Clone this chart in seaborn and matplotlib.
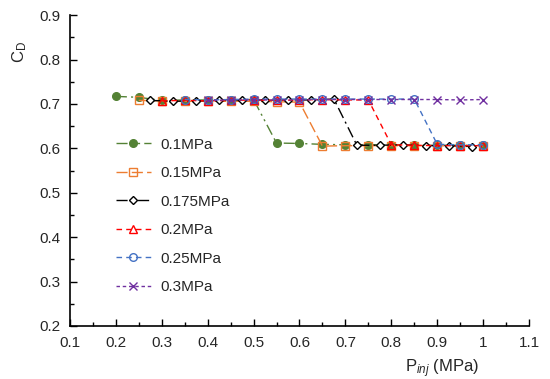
import matplotlib
matplotlib.use("Agg")
import matplotlib.pyplot as plt
from matplotlib.ticker import MultipleLocator, FuncFormatter
import seaborn as sns
import pandas as pd

# series data (P_inj in MPa, C_D)
p_01 = [0.2, 0.25, 0.3, 0.35, 0.4, 0.45, 0.5, 0.55, 0.6, 0.65, 0.7, 0.75, 0.8, 0.85, 0.9, 0.95, 1.0]
cd_01 = [0.717, 0.715, 0.708, 0.709, 0.709, 0.709, 0.710, 0.612, 0.611, 0.609, 0.608, 0.608, 0.608, 0.607, 0.607, 0.607, 0.607]

p_015 = [0.25, 0.3, 0.35, 0.4, 0.45, 0.5, 0.55, 0.6, 0.65, 0.7, 0.75, 0.8, 0.85, 0.9, 0.95, 1.0]
cd_015 = [0.708, 0.707, 0.706, 0.706, 0.706, 0.706, 0.705, 0.704, 0.605, 0.606, 0.606, 0.606, 0.606, 0.606, 0.605, 0.605]

p_0175 = [0.275, 0.325, 0.375, 0.425, 0.475, 0.525, 0.575, 0.625, 0.675, 0.725, 0.775, 0.825, 0.875, 0.925, 0.975]
cd_0175 = [0.708, 0.706, 0.707, 0.708, 0.709, 0.709, 0.709, 0.709, 0.711, 0.607, 0.607, 0.608, 0.606, 0.606, 0.604]

p_02 = [0.3, 0.35, 0.4, 0.45, 0.5, 0.55, 0.6, 0.65, 0.7, 0.75, 0.8, 0.85, 0.9, 0.95, 1.0]
cd_02 = [0.707, 0.708, 0.707, 0.708, 0.709, 0.708, 0.709, 0.710, 0.709, 0.709, 0.608, 0.607, 0.606, 0.606, 0.606]

p_025 = [0.35, 0.4, 0.45, 0.5, 0.55, 0.6, 0.65, 0.7, 0.75, 0.8, 0.85, 0.9, 0.95, 1.0]
cd_025 = [0.710, 0.709, 0.710, 0.711, 0.711, 0.711, 0.711, 0.711, 0.711, 0.711, 0.711, 0.609, 0.608, 0.608]

p_03 = [0.4, 0.45, 0.5, 0.55, 0.6, 0.65, 0.7, 0.75, 0.8, 0.85, 0.9, 0.95, 1.0]
cd_03 = [0.708, 0.709, 0.709, 0.709, 0.709, 0.710, 0.710, 0.710, 0.710, 0.710, 0.710, 0.709, 0.710]

labels = ['0.1MPa', '0.15MPa', '0.175MPa', '0.2MPa', '0.25MPa', '0.3MPa']
x_ticks = [0.1, 0.2, 0.3, 0.4, 0.5, 0.6, 0.7, 0.8, 0.9, 1.0, 1.1]
y_ticks = [0.2, 0.3, 0.4, 0.5, 0.6, 0.7, 0.8, 0.9]

series = [(p_01, cd_01), (p_015, cd_015), (p_0175, cd_0175),
          (p_02, cd_02), (p_025, cd_025), (p_03, cd_03)]
frames = []
for lab, (p, cd) in zip(labels, series):
    frames.append(pd.DataFrame({'P': p, 'CD': cd, 'case': lab}))
df = pd.concat(frames, ignore_index=True)

sns.set_style("ticks")
plt.rcParams['font.family'] = ['Liberation Sans', 'DejaVu Sans']
plt.rcParams['mathtext.fontset'] = 'custom'
plt.rcParams['mathtext.rm'] = 'Liberation Sans'
plt.rcParams['mathtext.it'] = 'Liberation Sans:italic'

styles = {
    '0.1MPa': dict(color='#548235', marker='o', ls=(0, (8, 3, 1.5, 3, 1.5, 3)), mfc='#548235'),
    '0.15MPa': dict(color='#ED7D31', marker='s', ls=(0, (8, 3)), mfc='none'),
    '0.175MPa': dict(color='black', marker='D', ls=(0, (8, 3, 1.5, 3)), mfc='white', ms=4.5),
    '0.2MPa': dict(color='#FF0000', marker='^', ls=(0, (4, 3)), mfc='none'),
    '0.25MPa': dict(color='#4472C4', marker='o', ls=(0, (4, 3)), mfc='none'),
    '0.3MPa': dict(color='#7030A0', marker='x', ls=(0, (2.5, 2)), mfc='none'),
}

fig = plt.figure(figsize=(5.5, 3.79), dpi=100)
ax = fig.add_axes([0.127, 0.14, 0.835, 0.82])

for lab in labels:
    st = styles[lab]
    sns.lineplot(data=df[df['case'] == lab], x='P', y='CD', ax=ax,
                 color=st['color'], marker=st['marker'], linestyle=st['ls'],
                 markerfacecolor=st['mfc'], markeredgecolor=st['color'],
                 markersize=st.get('ms', 5.5), markeredgewidth=1.0,
                 linewidth=1.0, label=lab)

ax.set_xlim(0.1, 1.1)
ax.set_ylim(0.2, 0.9)
ax.set_xticks(x_ticks)
ax.set_yticks(y_ticks)
ax.xaxis.set_minor_locator(MultipleLocator(0.05))
ax.yaxis.set_minor_locator(MultipleLocator(0.05))
ax.xaxis.set_major_formatter(FuncFormatter(lambda v, _: f'{v:g}'))
ax.yaxis.set_major_formatter(FuncFormatter(lambda v, _: f'{v:g}'))
ax.tick_params(which='both', direction='in', labelsize=11, color='black', width=1, pad=7)
ax.tick_params(which='major', length=5)
ax.tick_params(which='minor', length=3)
sns.despine(ax=ax)
for s in ['left', 'bottom']:
    ax.spines[s].set_color('black')
    ax.spines[s].set_linewidth(1.2)

ax.set_xlabel(r'P$_{inj}$ (MPa)', fontsize=12)
ax.xaxis.set_label_coords(0.81, -0.1)
ax.set_ylabel(r'C$_{\mathrm{D}}$', fontsize=12)
ax.yaxis.set_label_coords(-0.09, 0.88)

ax.legend(loc='upper left', bbox_to_anchor=(0.07, 0.65), frameon=False,
          fontsize=11, handlelength=2.3, labelspacing=0.95, handletextpad=0.6)

fig.savefig('out.png', dpi=100)
